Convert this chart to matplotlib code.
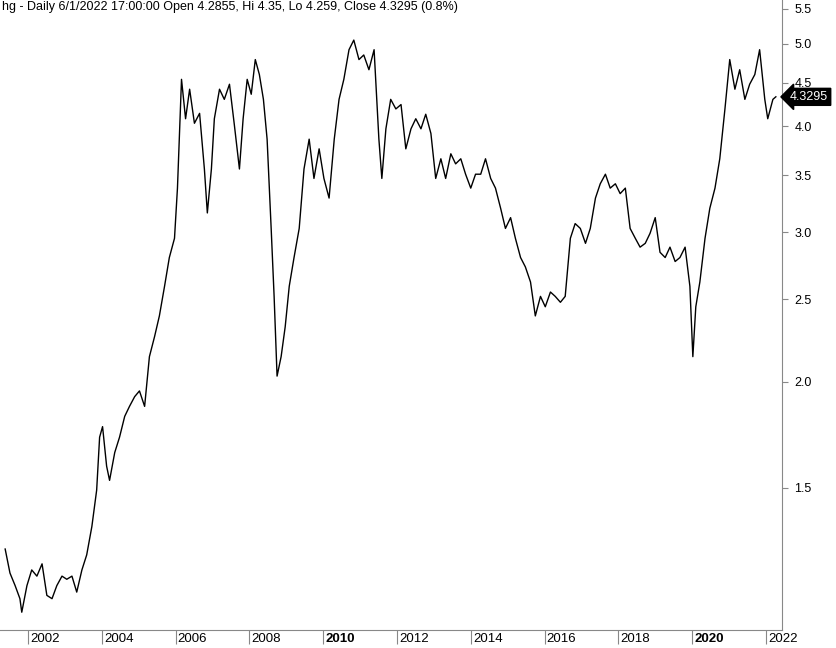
import matplotlib
matplotlib.use("Agg")
import matplotlib.pyplot as plt
from matplotlib.ticker import FixedLocator, NullLocator, FixedFormatter

plt.rcParams['font.family'] = ['Liberation Sans', 'DejaVu Sans']

years = [2001.38,2001.51,2001.65,2001.78,2001.83,2001.97,2002.10,2002.24,2002.38,2002.51,2002.65,2002.78,2002.92,2003.05,2003.19,2003.32,2003.46,2003.59,2003.73,2003.86,2003.94,2004.02,2004.13,2004.21,2004.35,2004.48,2004.62,2004.75,2004.89,2005.02,2005.16,2005.29,2005.43,2005.56,2005.70,2005.83,2005.97,2006.05,2006.16,2006.27,2006.38,2006.51,2006.65,2006.78,2006.86,2006.97,2007.05,2007.19,2007.32,2007.46,2007.59,2007.73,2007.83,2007.94,2008.05,2008.16,2008.27,2008.38,2008.48,2008.59,2008.67,2008.75,2008.86,2008.97,2009.08,2009.21,2009.35,2009.48,2009.62,2009.75,2009.89,2010.02,2010.16,2010.30,2010.43,2010.56,2010.70,2010.83,2010.97,2011.10,2011.24,2011.38,2011.51,2011.59,2011.70,2011.83,2011.97,2012.11,2012.24,2012.38,2012.51,2012.65,2012.78,2012.92,2013.05,2013.19,2013.32,2013.46,2013.59,2013.73,2013.86,2014.00,2014.13,2014.27,2014.40,2014.54,2014.67,2014.81,2014.94,2015.08,2015.21,2015.35,2015.48,2015.62,2015.75,2015.89,2016.02,2016.16,2016.29,2016.43,2016.56,2016.70,2016.83,2016.97,2017.11,2017.24,2017.38,2017.51,2017.65,2017.78,2017.92,2018.05,2018.19,2018.32,2018.46,2018.59,2018.73,2018.86,2019.00,2019.13,2019.27,2019.40,2019.54,2019.67,2019.81,2019.94,2020.02,2020.10,2020.21,2020.35,2020.48,2020.62,2020.75,2020.89,2021.02,2021.16,2021.29,2021.43,2021.56,2021.70,2021.83,2021.97,2022.05,2022.19,2022.27]
prices = [1.27,1.19,1.15,1.11,1.07,1.15,1.20,1.18,1.22,1.12,1.11,1.15,1.18,1.17,1.18,1.13,1.20,1.25,1.35,1.49,1.72,1.77,1.59,1.53,1.65,1.72,1.82,1.87,1.92,1.95,1.87,2.14,2.26,2.39,2.59,2.80,2.95,3.38,4.54,4.08,4.42,4.03,4.14,3.56,3.16,3.56,4.08,4.42,4.30,4.48,4.02,3.56,4.08,4.54,4.36,4.79,4.60,4.30,3.86,3.03,2.52,2.03,2.14,2.32,2.59,2.80,3.03,3.56,3.86,3.47,3.76,3.47,3.29,3.86,4.30,4.54,4.92,5.05,4.79,4.85,4.66,4.92,3.86,3.47,3.97,4.30,4.19,4.24,3.76,3.97,4.08,3.97,4.13,3.92,3.47,3.66,3.47,3.71,3.61,3.66,3.51,3.38,3.51,3.51,3.66,3.47,3.38,3.20,3.03,3.12,2.95,2.80,2.73,2.62,2.39,2.52,2.45,2.55,2.52,2.48,2.52,2.95,3.07,3.03,2.91,3.03,3.29,3.42,3.51,3.38,3.42,3.33,3.38,3.03,2.95,2.88,2.91,2.99,3.12,2.84,2.80,2.88,2.77,2.80,2.88,2.59,2.14,2.45,2.62,2.95,3.20,3.38,3.66,4.19,4.79,4.42,4.66,4.30,4.48,4.60,4.92,4.30,4.08,4.30,4.33]
xtick_years = [2002,2004,2006,2008,2010,2012,2014,2016,2018,2020,2022]
ytick_vals = [1.5,2.0,2.5,3.0,3.5,4.0,4.5,5.0,5.5]
title = "hg - Daily 6/1/2022 17:00:00 Open 4.2855, Hi 4.35, Lo 4.259, Close 4.3295 (0.8%)"
last_close = 4.3295

fig = plt.figure(figsize=(8.37, 6.48), dpi=100)
ax = fig.add_axes([0.0, 0.028, 0.934, 0.972])
ax.plot(years, prices, color="black", lw=1.0)
ax.set_yscale("log")
ax.set_xlim(2001.24, 2022.43)
ax.set_ylim(1.02, 5.63)
for s in ["top", "left"]:
    ax.spines[s].set_visible(False)
ax.spines["right"].set_color("#888888")
ax.spines["bottom"].set_color("#888888")
ax.yaxis.tick_right()
ax.yaxis.set_major_locator(FixedLocator(ytick_vals))
ax.yaxis.set_major_formatter(FixedFormatter([f"{v:.1f}" for v in ytick_vals]))
ax.yaxis.set_minor_locator(NullLocator())
ax.tick_params(axis="y", length=4, color="#888888", labelsize=9, pad=5)
ax.xaxis.set_major_locator(FixedLocator(xtick_years))
ax.xaxis.set_minor_locator(NullLocator())
ax.set_xticklabels([])
ax.tick_params(axis="x", length=10, direction="out", color="#888888")
for yr in xtick_years:
    ax.annotate(str(yr), xy=(yr, 0), xycoords=("data", "axes fraction"),
                xytext=(1.5, -2), textcoords="offset points", ha="left", va="top",
                fontsize=9.5, fontweight="bold" if yr in (2010, 2020) else "normal")
ax.text(0.003, 0.999, title, transform=ax.transAxes, ha="left", va="top", fontsize=9)
ax.annotate(f"{last_close}", xy=(1.0, last_close), xycoords=("axes fraction", "data"),
            xytext=(6, 0), textcoords="offset points", ha="left", va="center",
            fontsize=9, color="white",
            bbox=dict(boxstyle="larrow,pad=0.2", fc="black", ec="black"))
fig.savefig("out.png", dpi=100)
